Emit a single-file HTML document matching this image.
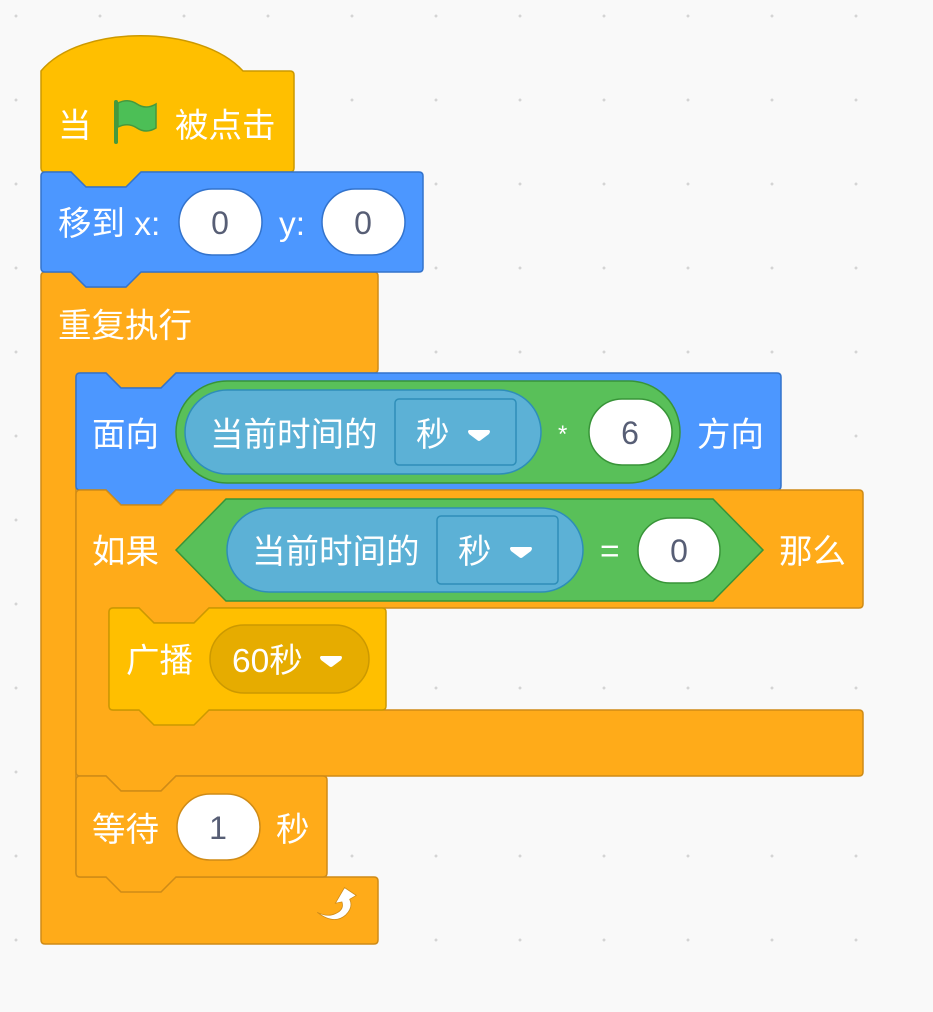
<!DOCTYPE html>
<html><head><meta charset="utf-8"><style>
html,body{margin:0;padding:0;width:933px;height:1012px;overflow:hidden;background:#F9F9F9;
background-image:radial-gradient(circle,#d4d4d4 1.3px,transparent 1.6px);background-size:84px 84px;background-position:-26px -26px;}
svg{position:absolute;left:0;top:0}
text{font-family:"Liberation Sans","Noto Sans CJK SC",sans-serif;font-size:33.5px;fill:#fff}
.n{fill:#575E75;text-anchor:middle;font-size:32px}
</style></head><body>
<svg width="933" height="1012" viewBox="0 0 933 1012">
<!-- forever -->
<path d="M41,276 Q41,272 45,272 L71,272 L86,287 L126,287 L141,272 L374,272 Q378,272 378,276 L378,369 Q378,373 374,373 L176,373 L161,388 L121,388 L106,373 L80,373 Q76,373 76,377 L76,873 Q76,877 80,877 L374,877 Q378,877 378,881 L378,940 Q378,944 374,944 L45,944 Q41,944 41,940 Z" fill="#FFAB19" stroke="#CF8B17" stroke-width="1.5"/>
<text x="58" y="337">重复执行</text>
<g transform="translate(338,911) scale(1.3) translate(-338,-911)">
<path d="M322,912 Q335,922 344,914 Q350,908 347,902 L352,899 L343,893 L336,905 L341,904 Q343,910 336,913 Q330,916 322,912 Z" fill="#fff" stroke="#CF8B17" stroke-width="0.6"/>
</g>
<!-- hat -->
<path d="M41,71 C80,24 200,24 243,71 L290,71 Q294,71 294,75 L294,168 Q294,172 290,172 L141,172 L126,187 L86,187 L71,172 L45,172 Q41,172 41,168 Z" fill="#FFBF00" stroke="#CC9900" stroke-width="1.5"/>
<text x="58" y="137">当</text>
<rect x="114" y="100" width="4" height="44" rx="2" fill="#45993D"/>
<path d="M118,103 Q128,98 137,104 Q146,110 156,104 L156,128 Q146,134 137,128 Q128,122 118,127 Z" fill="#4CBF56" stroke="#45993D" stroke-width="1.5"/>
<text x="175" y="137">被点击</text>
<!-- move -->
<path d="M41,176 Q41,172 45,172 L71,172 L86,187 L126,187 L141,172 L419,172 Q423,172 423,176 L423,268 Q423,272 419,272 L141,272 L126,287 L86,287 L71,272 L45,272 Q41,272 41,268 Z" fill="#4C97FF" stroke="#3373CC" stroke-width="1.5"/>
<text x="58" y="235">移到 x:</text>
<rect x="179" y="189" width="83" height="66" rx="33" fill="#fff" stroke="#3373CC" stroke-width="1.5"/>
<text class="n" x="220" y="234">0</text>
<text x="279" y="235">y:</text>
<rect x="322" y="189" width="83" height="66" rx="33" fill="#fff" stroke="#3373CC" stroke-width="1.5"/>
<text class="n" x="363" y="234">0</text>
<!-- face -->
<path d="M76,377 Q76,373 80,373 L106,373 L121,388 L161,388 L176,373 L777,373 Q781,373 781,377 L781,486 Q781,490 777,490 L176,490 L161,505 L121,505 L106,490 L80,490 Q76,490 76,486 Z" fill="#4C97FF" stroke="#3373CC" stroke-width="1.5"/>
<text x="92" y="446">面向</text>
<rect x="176" y="381" width="504" height="102" rx="51" fill="#59C059" stroke="#389438" stroke-width="1.5"/>
<rect x="185" y="390" width="356" height="84" rx="42" fill="#5CB1D6" stroke="#2E8EB8" stroke-width="1.5"/>
<text x="210" y="446">当前时间的</text>
<rect x="395" y="399" width="121" height="66" rx="4" fill="#5CB1D6" stroke="#2E8EB8" stroke-width="1.5"/>
<text x="416" y="446">秒</text>
<path d="M469,430 L489,430 Q491,431 489,434 L481,440 Q479,442 477,440 L469,434 Q467,431 469,430 Z" fill="#fff"/>
<text x="558" y="442" style="font-size:24px">*</text>
<rect x="589" y="399" width="83" height="66" rx="33" fill="#fff" stroke="#389438" stroke-width="1.5"/>
<text class="n" x="630" y="444">6</text>
<text x="697" y="446">方向</text>
<!-- if -->
<path d="M76,494 Q76,490 80,490 L106,490 L121,505 L161,505 L176,490 L859,490 Q863,490 863,494 L863,604 Q863,608 859,608 L209,608 L194,623 L154,623 L139,608 L113,608 Q109,608 109,612 L109,706 Q109,710 113,710 L859,710 Q863,710 863,714 L863,772 Q863,776 859,776 L176,776 L161,791 L121,791 L106,776 L80,776 Q76,776 76,772 Z" fill="#FFAB19" stroke="#CF8B17" stroke-width="1.5"/>
<text x="92" y="563">如果</text>
<path d="M176,550 L226,499 L713,499 L763,550 L713,601 L226,601 Z" fill="#59C059" stroke="#389438" stroke-width="1.5"/>
<rect x="227" y="508" width="356" height="84" rx="42" fill="#5CB1D6" stroke="#2E8EB8" stroke-width="1.5"/>
<text x="252" y="563">当前时间的</text>
<rect x="437" y="516" width="121" height="68" rx="4" fill="#5CB1D6" stroke="#2E8EB8" stroke-width="1.5"/>
<text x="458" y="563">秒</text>
<path d="M511,547 L531,547 Q533,548 531,551 L523,557 Q521,559 519,557 L511,551 Q509,548 511,547 Z" fill="#fff"/>
<text x="600" y="562">=</text>
<rect x="638" y="518" width="82" height="65" rx="32" fill="#fff" stroke="#389438" stroke-width="1.5"/>
<text class="n" x="679" y="562">0</text>
<text x="779" y="563">那么</text>
<!-- broadcast -->
<path d="M109,612 Q109,608 113,608 L139,608 L154,623 L194,623 L209,608 L382,608 Q386,608 386,612 L386,706 Q386,710 382,710 L209,710 L194,725 L154,725 L139,710 L113,710 Q109,710 109,706 Z" fill="#FFBF00" stroke="#CC9900" stroke-width="1.5"/>
<text x="126" y="672">广播</text>
<rect x="210" y="625" width="159" height="68" rx="34" fill="#E6AC00" stroke="#CC9900" stroke-width="1.5"/>
<text x="232" y="672">60秒</text>
<path d="M321,656 L341,656 Q343,657 341,660 L333,666 Q331,668 329,666 L321,660 Q319,657 321,656 Z" fill="#fff"/>
<!-- wait -->
<path d="M76,780 Q76,776 80,776 L106,776 L121,791 L161,791 L176,776 L323,776 Q327,776 327,780 L327,873 Q327,877 323,877 L176,877 L161,892 L121,892 L106,877 L80,877 Q76,877 76,873 Z" fill="#FFAB19" stroke="#CF8B17" stroke-width="1.5"/>
<text x="92" y="841">等待</text>
<rect x="177" y="794" width="83" height="66" rx="33" fill="#fff" stroke="#CF8B17" stroke-width="1.5"/>
<text class="n" x="218" y="839">1</text>
<text x="276" y="841">秒</text>
</svg>
</body></html>
